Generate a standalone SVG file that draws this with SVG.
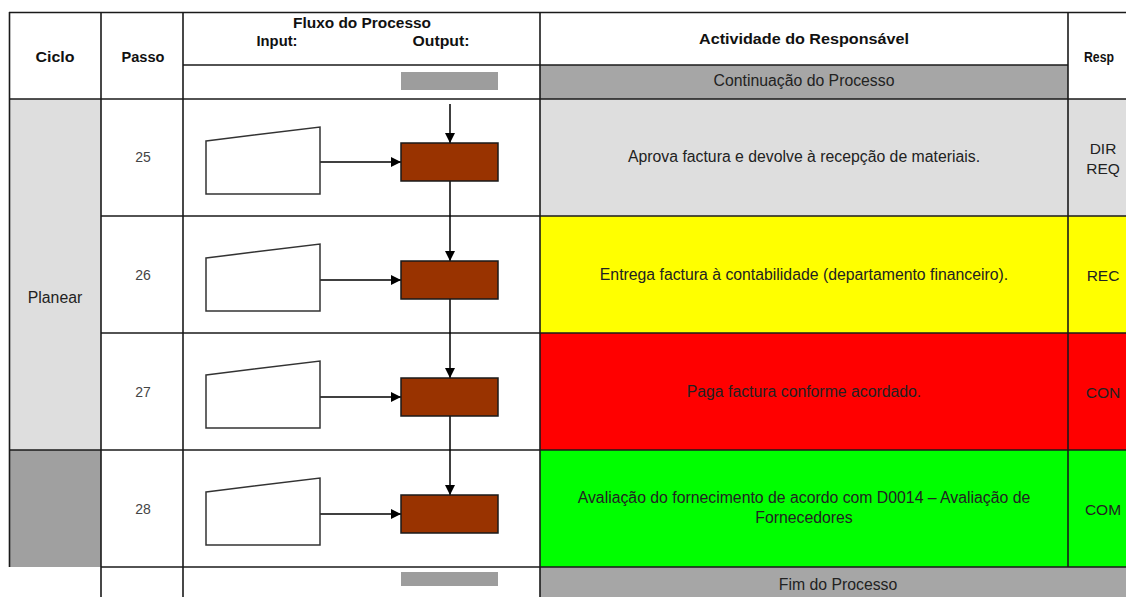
<svg xmlns="http://www.w3.org/2000/svg" width="1126" height="597" viewBox="0 0 1126 597">
<defs>
<marker id="ah" viewBox="0 0 10 10" refX="10" refY="5" markerWidth="10" markerHeight="10" markerUnits="userSpaceOnUse" orient="auto">
<path d="M0,0 L10,5 L0,10 z" fill="#000"/>
</marker>
<style>
.grid{stroke:#1a1a1a;stroke-width:1.6;fill:none}
.hd{font-family:"Liberation Sans",Arial,sans-serif;font-weight:bold;font-size:14px;fill:#111;text-anchor:middle}
.tx{font-family:"Liberation Sans",Arial,sans-serif;font-size:15.8px;fill:#222;text-anchor:middle}
.rs{font-family:"Liberation Sans",Arial,sans-serif;font-size:15.5px;fill:#222;text-anchor:middle}
.num{font-family:"Liberation Sans",Arial,sans-serif;font-size:14px;fill:#444;text-anchor:middle}
.box{fill:#993300;stroke:#1a1a1a;stroke-width:1.5}
.inp{fill:#fff;stroke:#333;stroke-width:1.5}
.conn{stroke:#000;stroke-width:1.5;fill:none}
.bar{fill:#9d9d9d}
</style>
</defs>
<rect width="1126" height="597" fill="#fff"/>
<g id="fills">
<rect x="540" y="65" width="528" height="34" fill="#a6a6a6"/>
<rect x="9" y="99" width="92" height="351" fill="#dedede"/>
<rect x="9" y="450" width="92" height="117" fill="#a0a0a0"/>
<rect x="540" y="99" width="586" height="117" fill="#dedede"/>
<rect x="540" y="216" width="586" height="117" fill="#ffff00"/>
<rect x="540" y="333" width="586" height="117" fill="#ff0000"/>
<rect x="540" y="450" width="586" height="117" fill="#00ff00"/>
<rect x="540" y="567" width="586" height="30" fill="#a6a6a6"/>
<rect class="bar" x="401" y="72" width="97" height="18"/>
<rect class="bar" x="401" y="572" width="97" height="14"/>
</g>
<g id="grid" class="grid">
<line x1="9" y1="12.5" x2="1126" y2="12.5"/>
<line x1="183" y1="65" x2="1068" y2="65"/>
<line x1="9" y1="99" x2="1126" y2="99"/>
<line x1="101" y1="216" x2="1126" y2="216"/>
<line x1="101" y1="333" x2="1126" y2="333"/>
<line x1="9" y1="450" x2="1126" y2="450"/>
<line x1="101" y1="567" x2="1126" y2="567"/>
<line x1="9.5" y1="12" x2="9.5" y2="567"/>
<line x1="101" y1="12" x2="101" y2="597"/>
<line x1="183" y1="12" x2="183" y2="597"/>
<line x1="540" y1="12" x2="540" y2="597"/>
<line x1="1068" y1="12" x2="1068" y2="567"/>
</g>
<g id="headers">
<text class="hd" x="55" y="62" textLength="39" lengthAdjust="spacingAndGlyphs">Ciclo</text>
<text class="hd" x="143" y="62" textLength="43" lengthAdjust="spacingAndGlyphs">Passo</text>
<text class="hd" x="362" y="28" textLength="138" lengthAdjust="spacingAndGlyphs">Fluxo do Processo</text>
<text class="hd" x="277" y="46" textLength="41" lengthAdjust="spacingAndGlyphs">Input:</text>
<text class="hd" x="441" y="46" textLength="57" lengthAdjust="spacingAndGlyphs">Output:</text>
<text class="hd" x="804" y="44" textLength="210" lengthAdjust="spacingAndGlyphs">Actividade do Responsável</text>
<text class="hd" x="1099" y="62" textLength="30" lengthAdjust="spacingAndGlyphs">Resp</text>
<text class="tx" x="804" y="86">Continuação do Processo</text>
<text class="tx" x="55" y="303">Planear</text>
<text class="tx" x="838" y="590">Fim do Processo</text>
</g>
<g id="connectors">
<line class="conn" x1="450" y1="104" x2="450" y2="143" marker-end="url(#ah)"/>
<line class="conn" x1="450" y1="181" x2="450" y2="261" marker-end="url(#ah)"/>
<line class="conn" x1="450" y1="299" x2="450" y2="378" marker-end="url(#ah)"/>
<line class="conn" x1="450" y1="416" x2="450" y2="495" marker-end="url(#ah)"/>
<line class="conn" x1="320" y1="162" x2="401" y2="162" marker-end="url(#ah)"/>
<line class="conn" x1="320" y1="280" x2="401" y2="280" marker-end="url(#ah)"/>
<line class="conn" x1="320" y1="397" x2="401" y2="397" marker-end="url(#ah)"/>
<line class="conn" x1="320" y1="514" x2="401" y2="514" marker-end="url(#ah)"/>
</g>
<g id="step25">
<text class="num" x="143" y="162">25</text>
<polygon class="inp" points="206,141 320,127 320,194 206,194"/>
<rect class="box" x="401" y="143" width="97" height="38"/>
<text class="tx" x="804" y="162">Aprova factura e devolve à recepção de materiais.</text>
<text class="rs" x="1103" y="154">DIR</text>
<text class="rs" x="1103" y="174">REQ</text>
</g>
<g id="step26">
<text class="num" x="143" y="280">26</text>
<polygon class="inp" points="206,258 320,244 320,311 206,311"/>
<rect class="box" x="401" y="261" width="97" height="38"/>
<text class="tx" x="804" y="280">Entrega factura à contabilidade (departamento financeiro).</text>
<text class="rs" x="1103" y="281">REC</text>
</g>
<g id="step27">
<text class="num" x="143" y="397">27</text>
<polygon class="inp" points="206,375 320,361 320,428 206,428"/>
<rect class="box" x="401" y="378" width="97" height="38"/>
<text class="tx" x="804" y="397">Paga factura conforme acordado.</text>
<text class="rs" x="1103" y="398">CON</text>
</g>
<g id="step28">
<text class="num" x="143" y="514">28</text>
<polygon class="inp" points="206,492 320,478 320,545 206,545"/>
<rect class="box" x="401" y="495" width="97" height="38"/>
<text class="tx" x="804" y="503">Avaliação do fornecimento de acordo com D0014 – Avaliação de</text>
<text class="tx" x="804" y="523">Fornecedores</text>
<text class="rs" x="1103" y="515">COM</text>
</g>
</svg>
